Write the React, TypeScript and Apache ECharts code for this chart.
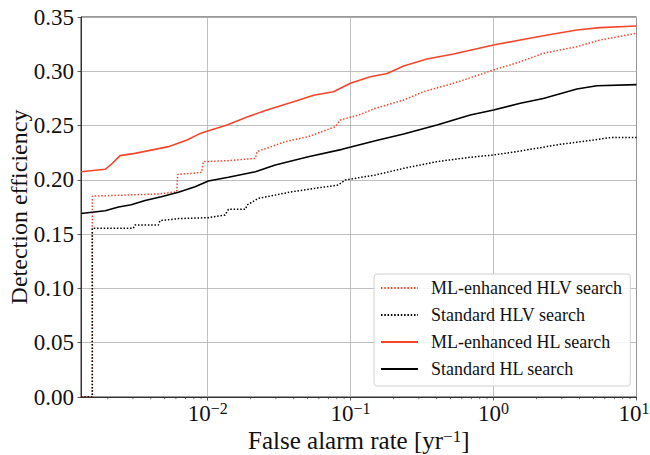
import React, { useEffect, useRef } from "react";
import * as echarts from "echarts";

const FONT = "'Liberation Serif', 'DejaVu Serif', serif";

const seriesNames = [
  "ML-enhanced HLV search",
  "Standard HLV search",
  "ML-enhanced HL search",
  "Standard HL search",
];

// False alarm rate (yr^-1) / detection efficiency
const mlHlvX = [0.0013, 0.00156, 0.00156, 0.00452, 0.00607, 0.00617, 0.00773, 0.00908, 0.00933, 0.01397, 0.02158, 0.02215, 0.0349, 0.0506, 0.0782, 0.0847, 0.1138, 0.149, 0.235, 0.3236, 0.525, 1.0, 1.538, 2.228, 3.83, 5.57, 10];
const mlHlvY = [0, 0, 0.185, 0.187, 0.189, 0.205, 0.206, 0.207, 0.2168, 0.2177, 0.2198, 0.226, 0.2352, 0.2398, 0.249, 0.2551, 0.2597, 0.2659, 0.2735, 0.2812, 0.2889, 0.3012, 0.3088, 0.3166, 0.3227, 0.3288, 0.335];

const stdHlvX = [0.0013, 0.00156, 0.00156, 0.00302, 0.0031, 0.00452, 0.00464, 0.00624, 0.0101, 0.01324, 0.01397, 0.01837, 0.01888, 0.02263, 0.02972, 0.0389, 0.0566, 0.082, 0.0919, 0.149, 0.235, 0.402, 0.687, 1.0, 1.538, 2.927, 5.0, 6.55, 10];
const stdHlvY = [0, 0, 0.1554, 0.1554, 0.1584, 0.1584, 0.1624, 0.1643, 0.1652, 0.1676, 0.1729, 0.1729, 0.1768, 0.183, 0.186, 0.1891, 0.1922, 0.1953, 0.1999, 0.2045, 0.2106, 0.2168, 0.2208, 0.2229, 0.2266, 0.2327, 0.2367, 0.2389, 0.2389];

const mlHlX = [0.0013, 0.00192, 0.00213, 0.00244, 0.0031, 0.00428, 0.00531, 0.00718, 0.00889, 0.01, 0.01368, 0.01888, 0.02602, 0.0399, 0.0551, 0.076, 0.0996, 0.1169, 0.1374, 0.1798, 0.235, 0.342, 0.525, 1.0, 1.538, 2.228, 3.83, 5.57, 10];
const mlHlY = [0.2075, 0.2097, 0.2146, 0.2223, 0.2244, 0.2281, 0.2306, 0.2367, 0.2428, 0.245, 0.2505, 0.258, 0.2643, 0.272, 0.278, 0.2812, 0.2889, 0.292, 0.295, 0.298, 0.3049, 0.3113, 0.3159, 0.3242, 0.3288, 0.3328, 0.338, 0.3402, 0.3417];

const stdHlX = [0.0013, 0.00192, 0.00238, 0.00292, 0.00365, 0.00474, 0.00624, 0.00817, 0.0101, 0.01397, 0.02158, 0.02972, 0.0506, 0.0871, 0.149, 0.235, 0.402, 0.687, 1.0, 1.538, 2.228, 3.83, 5.28, 10];
const stdHlY = [0.169, 0.1716, 0.175, 0.177, 0.181, 0.1845, 0.1885, 0.1937, 0.199, 0.2024, 0.2075, 0.2137, 0.2213, 0.2281, 0.236, 0.2422, 0.2505, 0.2597, 0.2643, 0.2705, 0.275, 0.2837, 0.2867, 0.2877];

const xMin = 0.0013;
const xMax = 10;
const yMin = 0;
const yMax = 0.35;
const yStep = 0.05;
const minorDecades = [0.001, 0.01, 0.1, 1];
const minorMultipliers = [2, 3, 4, 5, 6, 7, 8, 9];

const RED = "#f4462d";
const BLACK = "#000000";

function pairs(xs: number[], ys: number[]) {
  return xs.map((x, i) => [x, ys[i]]);
}

export default function App() {
  const ref = useRef<HTMLDivElement>(null);

  useEffect(() => {
    if (!ref.current) return;
    const chart = echarts.init(ref.current, null, { renderer: "svg", width: 650, height: 455 });

    const minorTicks: number[][] = [];
    minorDecades.forEach((d) =>
      minorMultipliers.forEach((m) => {
        const v = d * m;
        if (v > xMin && v < xMax) minorTicks.push([v, 0]);
      })
    );

    const supMinus = (n: number) => (n < 0 ? "−" + Math.abs(n) : String(n));

    chart.setOption({
      animation: false,
      backgroundColor: "#ffffff",
      grid: {
        left: 81,
        top: 17,
        width: 555.5,
        height: 380,
        containLabel: false,
        outerBoundsMode: "none",
        show: true,
        borderColor: "#333333",
        borderWidth: 1,
        backgroundColor: "transparent",
      },
      legend: {
        orient: "vertical",
        left: 374,
        top: 274,
        data: seriesNames,
        itemWidth: 37,
        itemHeight: 20,
        itemGap: 7,
        padding: [4, 8, 7, 6],
        backgroundColor: "rgba(255,255,255,0.85)",
        borderColor: "#d0d0d0",
        borderWidth: 1,
        borderRadius: 3,
        itemStyle: { opacity: 0 },
        textStyle: {
          fontFamily: FONT,
          fontSize: 18,
          color: "#111",
          lineHeight: 20,
          padding: [0, 0, 0, 8],
        },
      },
      xAxis: {
        type: "log",
        min: xMin,
        max: xMax,
        logBase: 10,
        name: "{a|False alarm rate [yr}{s|−1}{a|]}",
        nameLocation: "middle",
        nameGap: 31,
        nameMoveOverlap: false,
        nameTextStyle: {
          rich: {
            a: { fontFamily: FONT, fontSize: 25, lineHeight: 25, color: "#111" },
            s: { fontFamily: FONT, fontSize: 17, lineHeight: 17, color: "#111", verticalAlign: "top" },
          },
        },
        axisLine: { show: true, lineStyle: { color: "#333", width: 1 } },
        axisTick: { show: true, length: 3.5, lineStyle: { color: "#333", width: 0.8 } },
        splitLine: { show: true, lineStyle: { color: "#b0b0b0", width: 0.8 } },
        minorTick: { show: false },
        axisLabel: {
          showMinLabel: false,
          margin: 3,
          formatter: (v: number) => {
            const e = Math.round(Math.log10(v));
            if (Math.abs(Math.log10(v) - e) > 1e-6) return "";
            return "{b|10}{" + (e > 0 ? "t" : "s") + "|" + supMinus(e) + "}";
          },
          rich: {
            b: { fontFamily: FONT, fontSize: 23, lineHeight: 23, color: "#111", padding: [4, 0, 0, 0] },
            s: { fontFamily: FONT, fontSize: 16, lineHeight: 16, color: "#111", verticalAlign: "top" },
            t: { fontFamily: FONT, fontSize: 16, lineHeight: 16, color: "#111", verticalAlign: "top", padding: [0, 5, 0, 0] },
          },
        },
      },
      yAxis: {
        type: "value",
        min: yMin,
        max: yMax,
        interval: yStep,
        name: "Detection efficiency",
        nameLocation: "middle",
        nameGap: 50,
        nameMoveOverlap: false,
        nameTextStyle: { fontFamily: FONT, fontSize: 24, color: "#111" },
        axisLine: { show: true, lineStyle: { color: "#333", width: 1 } },
        axisTick: { show: true, length: 3.5, lineStyle: { color: "#333", width: 0.8 } },
        splitLine: { show: true, lineStyle: { color: "#b0b0b0", width: 0.8 } },
        axisLabel: {
          margin: 7,
          fontFamily: FONT,
          fontSize: 23,
          color: "#111",
          formatter: (v: number) => v.toFixed(2),
        },
      },
      series: [
        {
          name: seriesNames[0],
          type: "line",
          data: pairs(mlHlvX, mlHlvY),
          symbol: "none",
          z: 2,
          lineStyle: { color: RED, width: 1.5, type: [1.5, 1.8] },
          itemStyle: { color: RED },
        },
        {
          name: seriesNames[1],
          type: "line",
          data: pairs(stdHlvX, stdHlvY),
          symbol: "none",
          z: 2,
          lineStyle: { color: BLACK, width: 1.5, type: [1.5, 1.8] },
          itemStyle: { color: BLACK },
        },
        {
          name: seriesNames[2],
          type: "line",
          data: pairs(mlHlX, mlHlY),
          symbol: "none",
          z: 3,
          lineStyle: { color: RED, width: 1.6 },
          itemStyle: { color: RED },
        },
        {
          name: seriesNames[3],
          type: "line",
          data: pairs(stdHlX, stdHlY),
          symbol: "none",
          z: 3,
          lineStyle: { color: BLACK, width: 1.6 },
          itemStyle: { color: BLACK },
        },
        {
          name: "minorTicks",
          type: "custom",
          silent: true,
          clip: false,
          data: minorTicks,
          renderItem: (_p: any, api: any) => {
            const pt = api.coord([api.value(0), yMin]);
            return {
              type: "line",
              shape: { x1: pt[0], y1: pt[1], x2: pt[0], y2: pt[1] + 2.2 },
              style: { stroke: "#333", lineWidth: 0.7 },
            };
          },
        },
      ],
    });

    return () => chart.dispose();
  }, []);

  return (
    <div
      ref={ref}
      style={{ position: "fixed", left: 0, top: 0, width: 650, height: 455 }}
    />
  );
}
